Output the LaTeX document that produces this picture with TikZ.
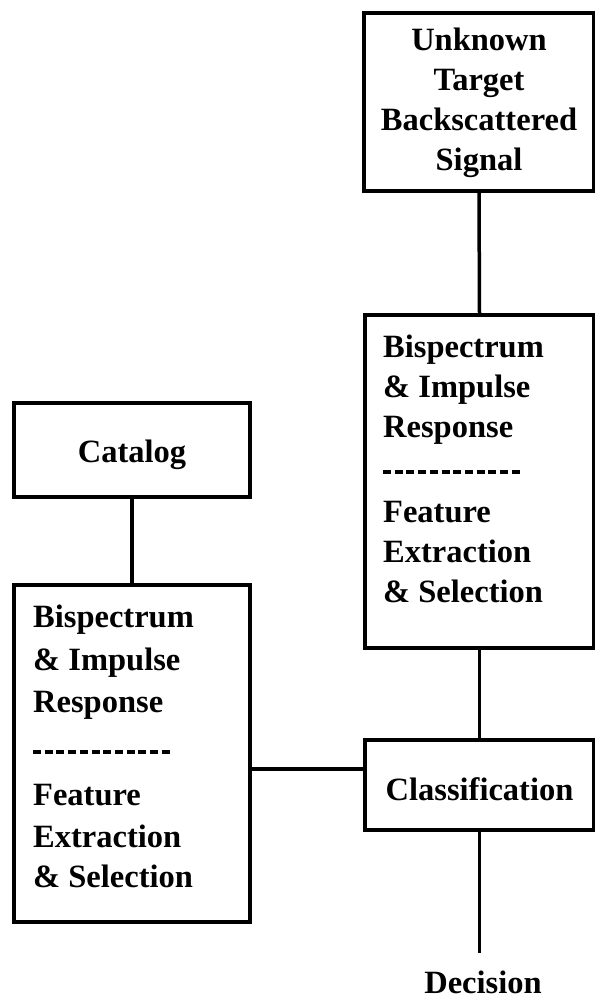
\documentclass[tikz,border=0pt]{standalone}
\usepackage{fontspec}
\setmainfont{Liberation Serif}
\tikzset{
  box/.style={draw, line width=3.5bp, inner sep=0pt},
  lbl/.style={font=\fontsize{32.5bp}{40bp}\selectfont\bfseries, inner sep=0pt},
  sepline/.style={line width=3.8bp, dash pattern=on 8bp off 3.7bp},
  wire/.style={line width=3.5bp}
}
\begin{document}
\begin{tikzpicture}[x=1bp,y=-1bp]
\useasboundingbox (0,0) rectangle (595,1003);
\fill[white] (0,0) rectangle (595,1003);

% boxes
\node[box, minimum width=230bp, minimum height=178bp] (top) at (479,102) {};
\node[box, minimum width=229bp, minimum height=333bp] (bisR) at (479.5,481.5) {};
\node[box, minimum width=229bp, minimum height=90bp] (cls) at (479.5,785) {};
\node[box, minimum width=236bp, minimum height=94bp] (cat) at (132,450) {};
\node[box, minimum width=236bp, minimum height=337bp] (bisL) at (132,753.5) {};

% top box text
\node[lbl, anchor=base] (u1) at (479,50) {Unknown};
\node[lbl, anchor=base] (u2) at (479,90) {Target};
\node[lbl, anchor=base] (u3) at (479,130) {Backscattered};
\node[lbl, anchor=base] (u4) at (479,170) {Signal};

% right processing box text
\node[lbl, anchor=base west] (r1) at (383,357) {Bispectrum};
\node[lbl, anchor=base west] (r2) at (383,397) {\& Impulse};
\node[lbl, anchor=base west] (r3) at (383,437) {Response};
\draw[sepline] (383,472) -- (523,472);
\node[lbl, anchor=base west] (r4) at (383,522) {Feature};
\node[lbl, anchor=base west] (r5) at (383,562) {Extraction};
\node[lbl, anchor=base west] (r6) at (383,602) {\& Selection};

% left processing box text
\node[lbl, anchor=base west] (l1) at (33,627) {Bispectrum};
\node[lbl, anchor=base west] (l2) at (33,670) {\& Impulse};
\node[lbl, anchor=base west] (l3) at (33,712) {Response};
\draw[sepline] (33,752) -- (173,752);
\node[lbl, anchor=base west] (l4) at (33,805) {Feature};
\node[lbl, anchor=base west] (l5) at (33,847) {Extraction};
\node[lbl, anchor=base west] (l6) at (33,887) {\& Selection};

% single-line labels
\node[lbl, anchor=base] (catT) at (132,462) {Catalog};
\node[lbl, anchor=base] (clsT) at (479.5,800) {Classification};
\node[lbl, anchor=base] (dec) at (483,993) {Decision};

% connectors
\coordinate (decEnd) at (479.5,953);
\coordinate (hy) at (0,769);
\draw[wire] (top.south) -- (bisR.north);
\draw[wire] (bisR.south) -- (cls.north);
\draw[wire] (cls.south) -- (decEnd);
\draw[wire] (cat.south) -- (bisL.north);
\draw[wire] (bisL.east |- hy) -- (cls.west |- hy);
\end{tikzpicture}
\end{document}
